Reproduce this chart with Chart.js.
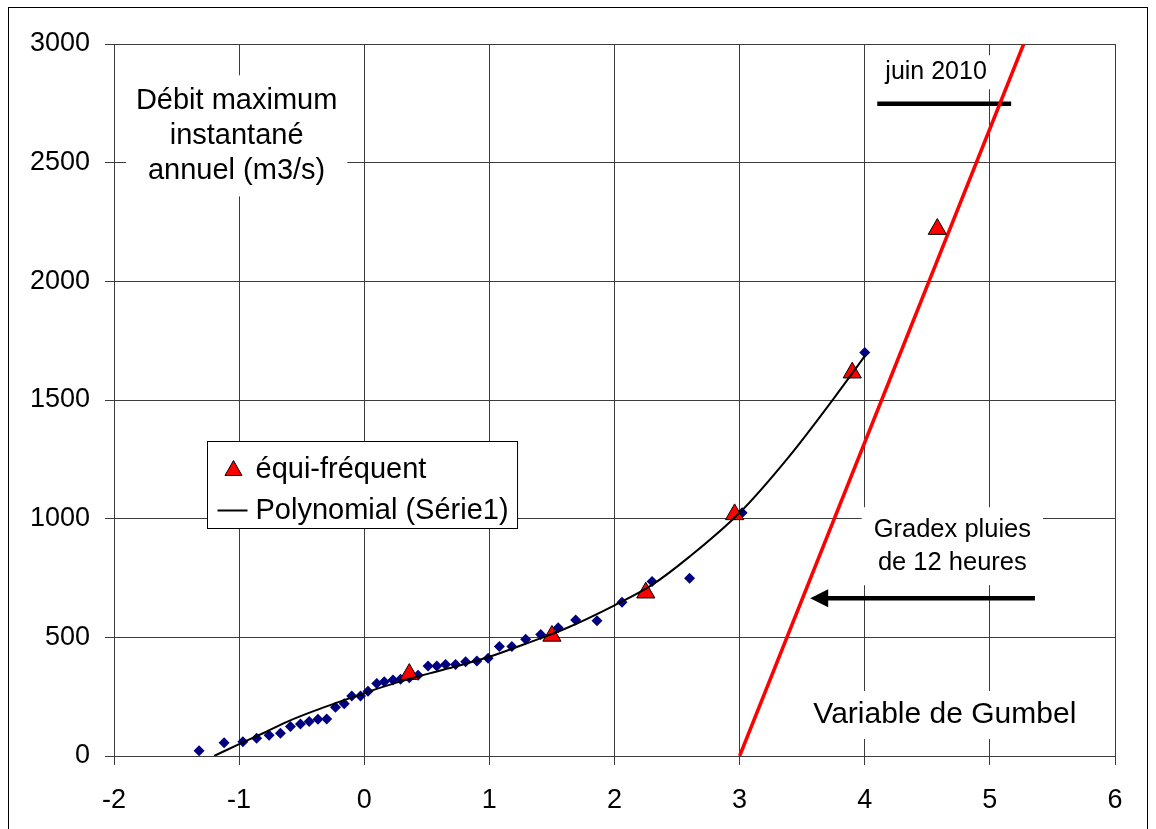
<!DOCTYPE html>
<html>
<head>
<meta charset="utf-8">
<script src="https://cdn.jsdelivr.net/npm/chart.js@4.4.1/dist/chart.umd.min.js"></script>
<style>
    html, body { margin: 0; padding: 0; background: #fff; }
    #wrap { width: 1156px; height: 829px; }
</style>
</head>
<body>
<div id="wrap"><canvas id="chart" width="1156" height="829"></canvas></div>
<script>
// Série1 : variable de Gumbel / débit maximum instantané annuel (m3/s)
const gumbelX = [-1.32, -1.12, -0.97, -0.86, -0.76, -0.67, -0.59, -0.51, -0.44, -0.37, -0.30,
    -0.23, -0.16, -0.10, -0.03, 0.03, 0.10, 0.16, 0.23, 0.29, 0.36, 0.43, 0.51, 0.58, 0.65,
    0.73, 0.81, 0.90, 0.99, 1.08, 1.18, 1.29, 1.41, 1.55, 1.69, 1.86, 2.06, 2.30, 2.60, 3.02, 4.00];
const debitY = [22, 56, 60, 75, 87, 96, 124, 135, 145, 155, 156,
    205, 220, 253, 253, 273, 306, 313, 320, 323, 330, 340, 379, 379, 386,
    386, 397, 400, 412, 461, 461, 492, 512, 540, 573, 570, 648, 735, 749, 1025, 1700];

// équi-fréquent
const equiX = [0.36, 1.50, 2.25, 2.96, 3.90, 4.58];
const equiY = [345, 506, 688, 1018, 1615, 2220];

// Polynomial (Série1)
const polyX = [-1.2, -1.0, -0.8, -0.6, -0.4, -0.2, 0, 0.25, 0.5, 0.75, 1.0, 1.3, 1.6, 2.0, 2.3, 2.6, 3.0, 3.4, 3.75, 4.0];
const polyY = [0, 50, 98, 148, 190, 228, 265, 308, 345, 380, 418, 475, 535, 635, 721, 840, 1025, 1265, 1505, 1685];

// Gradex pluies de 12 heures
const gradexX = [3.0, 5.27];
const gradexY = [0, 3000];

// trait "juin 2010"
const juinX = [4.10, 5.17];
const juinY = [2748, 2748];

// flèche (queue -> base de la pointe)
const arrowX = [5.36, 3.70];
const arrowY = [665, 665];

// axes
const xTicks = [-2, -1, 0, 1, 2, 3, 4, 5, 6];
const yTicks = [0, 500, 1000, 1500, 2000, 2500, 3000];

const FONT = '"Liberation Sans", Arial, sans-serif';
const GRID = "#3c3c3c";

const pts = (xs, ys) => xs.map((x, i) => ({ x: x, y: ys[i] }));

// Draw a block of centered text on a white box
const textBox = (ctx, lines, cx, cy, size, lineH, padX, padY) => {
    ctx.font = `${size}px ${FONT}`;
    const w = Math.max(...lines.map((l) => ctx.measureText(l).width));
    const h = lines.length * lineH;
    ctx.fillStyle = "#fff";
    ctx.fillRect(cx - w / 2 - padX, cy - h / 2 - padY, w + 2 * padX, h + 2 * padY);
    ctx.fillStyle = "#000";
    ctx.textAlign = "center";
    ctx.textBaseline = "middle";
    lines.forEach((l, i) => {
        ctx.fillText(l, cx, cy - h / 2 + lineH * (i + 0.5));
    });
};

const annotations = {
    id: "annotations",
    beforeDraw(chart) {
        const ctx = chart.ctx;
        ctx.save();
        ctx.fillStyle = "#fff";
        ctx.fillRect(0, 0, chart.width, chart.height);
        ctx.restore();
    },
    beforeDatasetsDraw(chart) {
        const ctx = chart.ctx;
        const xs = chart.scales.x;
        const ys = chart.scales.y;
        ctx.save();
        textBox(ctx, ["Débit maximum", "instantané", "annuel (m3/s)"],
            xs.getPixelForValue(-1.02), ys.getPixelForValue(2613), 29, 35, 10, 8);
        textBox(ctx, ["juin 2010"],
            xs.getPixelForValue(4.57), ys.getPixelForValue(2881), 25, 30, 5, 2);
        textBox(ctx, ["Gradex pluies", "de 12 heures"],
            xs.getPixelForValue(4.70), ys.getPixelForValue(884), 25.5, 33, 12, 6);
        textBox(ctx, ["Variable de Gumbel"],
            xs.getPixelForValue(4.64), ys.getPixelForValue(173), 30, 34, 11, 7);
        ctx.restore();
    },
    afterDatasetsDraw(chart) {
        const ctx = chart.ctx;
        const xs = chart.scales.x;
        const ys = chart.scales.y;
        ctx.save();

        // arrow head
        const n = arrowX.length;
        const bx = xs.getPixelForValue(arrowX[n - 1]);
        const by = ys.getPixelForValue(arrowY[n - 1]);
        const px = xs.getPixelForValue(arrowX[n - 2]);
        const py = ys.getPixelForValue(arrowY[n - 2]);
        const ang = Math.atan2(by - py, bx - px);
        ctx.translate(bx, by);
        ctx.rotate(ang);
        ctx.beginPath();
        ctx.moveTo(17, 0);
        ctx.lineTo(-1, -9);
        ctx.lineTo(-1, 9);
        ctx.closePath();
        ctx.fillStyle = "#000";
        ctx.fill();
        ctx.setTransform(1, 0, 0, 1, 0, 0);

        // legend
        const lx = Math.round(xs.getPixelForValue(-1.256)) + 0.5;
        const ly = Math.round(ys.getPixelForValue(1328)) + 0.5;
        ctx.font = `29px ${FONT}`;
        const labels = ["équi-fréquent", "Polynomial (Série1)"];
        const tw = Math.max(...labels.map((l) => ctx.measureText(l).width));
        const lw = 49 + tw + 8;
        const lh = 87;
        ctx.fillStyle = "#fff";
        ctx.fillRect(lx, ly, lw, lh);
        ctx.strokeStyle = "#000";
        ctx.lineWidth = 1;
        ctx.strokeRect(lx, ly, lw, lh);

        // triangle entry
        const tx = lx + 26;
        const ty = ly + 28;
        ctx.beginPath();
        ctx.moveTo(tx, ty - 9);
        ctx.lineTo(tx - 8.5, ty + 6);
        ctx.lineTo(tx + 8.5, ty + 6);
        ctx.closePath();
        ctx.fillStyle = "#ff0000";
        ctx.fill();
        ctx.strokeStyle = "#000";
        ctx.stroke();

        // line entry
        const my = ly + 69;
        ctx.beginPath();
        ctx.moveTo(lx + 10, my);
        ctx.lineTo(lx + 40, my);
        ctx.lineWidth = 2;
        ctx.stroke();

        ctx.fillStyle = "#000";
        ctx.textAlign = "left";
        ctx.textBaseline = "middle";
        ctx.fillText(labels[0], lx + 48, ty);
        ctx.fillText(labels[1], lx + 48, my);
        ctx.restore();
    },
    afterDraw(chart) {
        const ctx = chart.ctx;
        ctx.save();
        ctx.strokeStyle = "#000";
        ctx.lineWidth = 1;
        ctx.strokeRect(8.5, 7.5, 1139, 900);
        ctx.restore();
    },
};

const ctx = document.getElementById("chart").getContext("2d");
new Chart(ctx, {
    type: "scatter",
    data: {
        datasets: [
            {
                label: "Polynomial (Série1)",
                data: pts(polyX, polyY),
                showLine: true,
                borderColor: "#000",
                borderWidth: 2,
                pointRadius: 0,
                cubicInterpolationMode: "monotone",
                fill: false,
            },
            {
                label: "équi-fréquent",
                data: pts(equiX, equiY),
                pointStyle: "triangle",
                pointRadius: 10.5,
                backgroundColor: "#ff0000",
                borderColor: "#000",
                borderWidth: 1,
            },
            {
                label: "Série1",
                data: pts(gumbelX, debitY),
                pointStyle: "rectRot",
                pointRadius: 5.5,
                backgroundColor: "#000080",
                borderColor: "#000080",
                borderWidth: 0,
            },
            {
                label: "Gradex",
                data: pts(gradexX, gradexY),
                showLine: true,
                borderColor: "#ff0000",
                borderWidth: 3.5,
                pointRadius: 0,
            },
            {
                label: "juin 2010",
                data: pts(juinX, juinY),
                showLine: true,
                borderColor: "#000",
                borderWidth: 4.5,
                pointRadius: 0,
            },
            {
                label: "flèche",
                data: pts(arrowX, arrowY),
                showLine: true,
                borderColor: "#000",
                borderWidth: 4.5,
                pointRadius: 0,
            },
        ],
    },
    options: {
        responsive: false,
        animation: false,
        events: [],
        layout: { padding: { top: 44, right: 41, left: 0, bottom: 0 } },
        plugins: {
            legend: { display: false },
            tooltip: { enabled: false },
        },
        scales: {
            x: {
                type: "linear",
                min: xTicks[0],
                max: xTicks[xTicks.length - 1],
                afterBuildTicks: (s) => { s.ticks = xTicks.map((v) => ({ value: v })); },
                afterFit: (s) => { s.height = 73; },
                ticks: {
                    color: "#000",
                    font: { family: FONT, size: 27 },
                    padding: 19,
                    callback: (v) => String(v),
                },
                grid: { color: GRID, lineWidth: 1, tickLength: 9, tickColor: GRID },
                border: { color: GRID },
            },
            y: {
                min: yTicks[0],
                max: yTicks[yTicks.length - 1],
                afterBuildTicks: (s) => { s.ticks = yTicks.map((v) => ({ value: v })); },
                afterFit: (s) => { s.width = 114; },
                ticks: {
                    color: "#000",
                    font: { family: FONT, size: 27 },
                    padding: 15,
                    callback: (v) => String(v),
                },
                grid: { color: GRID, lineWidth: 1, tickLength: 9, tickColor: GRID },
                border: { color: GRID },
            },
        },
    },
    plugins: [annotations],
});
</script>
</body>
</html>
